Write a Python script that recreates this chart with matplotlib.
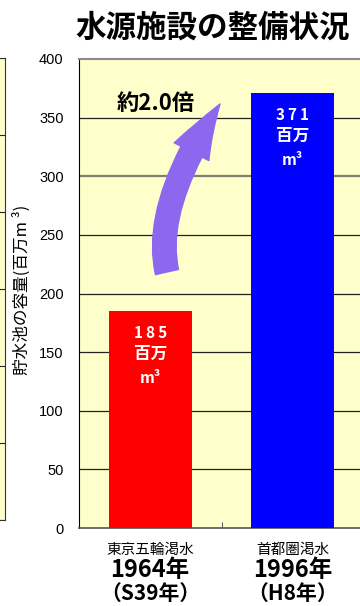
import numpy as np
import matplotlib
matplotlib.use("Agg")
import matplotlib.pyplot as plt
from matplotlib.patches import FancyArrowPatch
from matplotlib.path import Path

plt.rcParams['font.family'] = ['Noto Sans CJK JP', 'DejaVu Sans']

# data
events = ["東京五輪渇水", "首都圏渇水"]
years = ["1964年", "1996年"]
eras = ["（S39年）", "（H8年）"]
capacity = [185, 371]      # 百万m3
bar_colors = ["#FF0000", "#0000FF"]
yticks = [0, 50, 100, 150, 200, 250, 300, 350, 400]

W, H = 360, 606
fig = plt.figure(figsize=(W / 100, H / 100), dpi=100)
fig.patch.set_facecolor("white")

def px_box(x0, y0, x1, y1):
    # pixel box (top-left origin) -> figure fraction rect
    return [x0 / W, 1 - y1 / H, (x1 - x0) / W, (y1 - y0) / H]

# edge of the neighbouring chart, cut off on the left
ax0 = fig.add_axes(px_box(-30, 58, 5, 520))
ax0.set_facecolor("#FFFFCC")
ax0.set_xlim(0, 1)
ax0.set_ylim(0, 6)
ax0.set_yticks(range(7))
ax0.grid(axis="y", color="#222222", linewidth=0.8)
ax0.set_xticks([])
ax0.tick_params(left=False, labelleft=False)
for s in ax0.spines.values():
    s.set_color("#333333")

# main chart
ax = fig.add_axes(px_box(79, 59, 364, 528))
ax.set_facecolor("#FFFFCC")
x = np.arange(len(capacity))
bars = ax.bar(x, capacity, width=0.585, color=bar_colors, zorder=3)
ax.set_xlim(-0.5, 1.5)
ax.set_ylim(0, 400)
ax.set_yticks(yticks)
ax.set_yticklabels([str(v) for v in yticks], family="Liberation Sans", fontsize=10.5)
ax.tick_params(axis="y", length=0, pad=11)
ax.set_xticks([])
ax.set_xticks([0.5], minor=True)
ax.tick_params(axis="x", which="minor", direction="in", length=4, color="#333333")
for v in yticks[1:-1]:
    if v == 300:
        ax.axhline(v, color="#7f7f6f", linewidth=1.6, zorder=1)
    else:
        ax.axhline(v, color="#222222", linewidth=0.9, zorder=1)
ax.spines["top"].set_color("#8a8a8a")
ax.spines["top"].set_linewidth(1.5)
ax.spines["right"].set_visible(False)
ax.spines["left"].set_color("black")
ax.spines["bottom"].set_color("#555555")
ax.spines["bottom"].set_linewidth(1.2)

# value labels inside bars
for xi, v in zip(x, capacity):
    ax.annotate("\u2009".join(str(v)), (xi, v), xytext=(0, -16), textcoords="offset points",
                ha="center", va="center", color="white", fontsize=11,
                fontweight="bold", zorder=4)
    ax.annotate("百万", (xi, v), xytext=(0, -31), textcoords="offset points",
                ha="center", va="center", color="white", fontsize=12,
                fontweight="bold", zorder=4)
    ax.annotate("m³", (xi, v), xytext=(0, -48), textcoords="offset points",
                ha="center", va="center", color="white", fontsize=11,
                fontweight="bold", zorder=4)

# category labels
for xi, ev, yr, er in zip(x, events, years, eras):
    ax.annotate(ev, (xi, 0), xytext=(0, -16), textcoords="offset points",
                ha="center", va="center", fontsize=10.5, annotation_clip=False)
    ax.annotate(yr, (xi, 0), xytext=(0, -30.5), textcoords="offset points",
                ha="center", va="center", fontsize=17, fontweight="bold",
                annotation_clip=False)
    ax.annotate(er, (xi, 0), xytext=(0, -47), textcoords="offset points",
                ha="center", va="center", fontsize=15, fontweight="bold",
                annotation_clip=False)

# growth arrow (curved, from the 1964 bar up towards the 1996 bar)
def to_ax(px, py):
    return ((px - 79) / 285, (528 - py) / 469)

arrow_path = Path([to_ax(167, 272), to_ax(152, 205), to_ax(220, 104)],
                  [Path.MOVETO, Path.CURVE3, Path.CURVE3])
arrow = FancyArrowPatch(path=arrow_path, transform=ax.transAxes,
                        arrowstyle="simple,head_width=28,head_length=40,tail_width=17",
                        color="#8d68ee", zorder=5, mutation_scale=1)
ax.add_patch(arrow)
ax.text(0.27, 0.905, "約2.0倍", transform=ax.transAxes, ha="center", va="center",
        fontsize=16, fontweight="bold", zorder=6)

fig.text(22 / W, 1 - 290 / H, "貯水池の容量(百万m ³)", rotation=90,
         ha="center", va="center", fontsize=12)
fig.text(213 / W, 1 - 28 / H, "水源施設の整備状況", ha="center", va="center",
         fontsize=22, fontweight="bold")

fig.savefig("out.png", dpi=100)
